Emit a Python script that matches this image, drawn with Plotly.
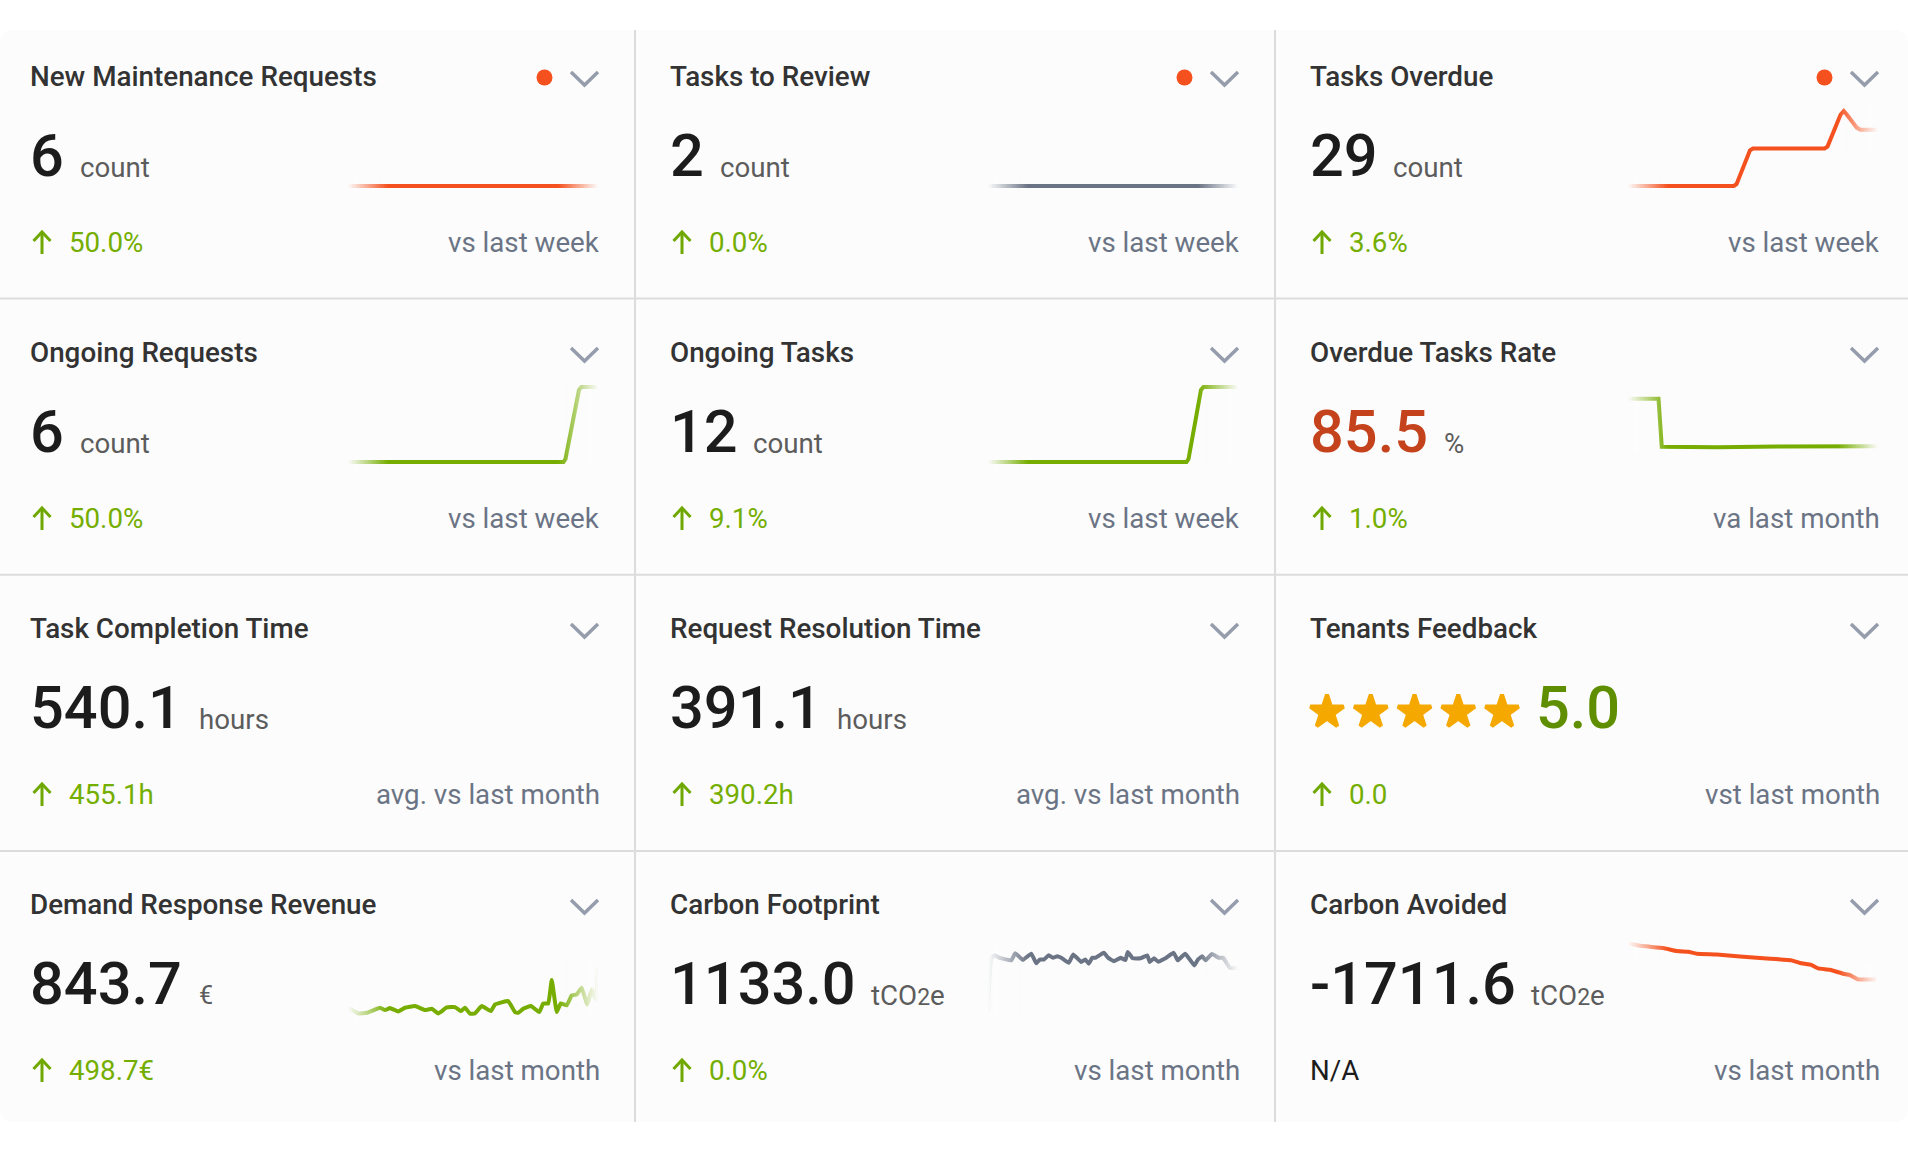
import plotly.graph_objects as go

W, H = 1908, 1152

# ---------------------------------------------------------------- card content
titles = ["New Maintenance Requests", "Tasks to Review", "Tasks Overdue",
          "Ongoing Requests", "Ongoing Tasks", "Overdue Tasks Rate",
          "Task Completion Time", "Request Resolution Time", "Tenants Feedback",
          "Demand Response Revenue", "Carbon Footprint", "Carbon Avoided"]
values = ["6", "2", "29", "6", "12", "85.5", "540.1", "391.1", "5.0", "843.7", "1133.0", "-1711.6"]
co2 = 'tCO<span style="font-size:23px">2</span>e'
units = ["count", "count", "count", "count", "count", "%", "hours", "hours", "", "€", co2, co2]
deltas = ["50.0%", "0.0%", "3.6%", "50.0%", "9.1%", "1.0%", "455.1h", "390.2h", "0.0", "498.7€", "0.0%", "N/A"]
compare = ["vs last week", "vs last week", "vs last week", "vs last week", "vs last week", "va last month",
           "avg. vs last month", "avg. vs last month", "vst last month", "vs last month", "vs last month",
           "vs last month"]
alert_cards = ["New Maintenance Requests", "Tasks to Review", "Tasks Overdue"]
star_ratings = [1, 2, 3, 4, 5]
star_levels = [5, 5, 5, 5, 5]

# ---------------------------------------------------------------- sparklines, x is % of the period
new_requests_x = [0, 50, 100]
new_requests_y = [6, 6, 6]
to_review_x = [0, 50, 100]
to_review_y = [2, 2, 2]
overdue_x = [0, 42.3, 43.4, 48.8, 50, 78.6, 79.8, 85, 86.3, 87.6, 91.6, 93, 100]
overdue_y = [26, 26, 26.1, 27.9, 28, 28, 28.1, 29.8, 30, 29.8, 29.1, 29, 29]
ongoing_req_x = [0, 86.2, 87, 92.4, 93.4, 100]
ongoing_req_y = [4, 4, 4.08, 5.92, 6, 6]
ongoing_tasks_x = [0, 79.4, 80.2, 85.2, 86.2, 100]
ongoing_tasks_y = [11, 11, 11.04, 11.96, 12, 12]
rate_x = [0, 12.2, 13.5, 35.8, 60, 84.6, 100]
rate_y = [99.8, 99.8, 85.2, 85.1, 85.3, 85.5, 85.4]
demand_x = [0.1, 4.1, 7.5, 12.8, 14.8, 16.8, 20.1, 22.8, 26.8, 30.8, 33.5, 36.1, 39.5, 42.8, 45.1, 46.8, 48.8,
            50.8, 53.5, 57.1, 58.8, 64.1, 66.8, 68.1, 70.1, 73.2, 76.5, 78.1, 80.1, 81.5, 83.5, 85.1, 87.5, 89.5,
            91.5, 93.5, 95.7, 97.5, 99.1, 100]
demand_y = [412, 351, 358, 412, 387, 408, 373, 412, 430, 387, 401, 351, 415, 419, 376, 412, 348, 351, 430, 376,
            447, 483, 365, 358, 401, 430, 365, 458, 458, 708, 365, 458, 437, 544, 554, 626, 447, 608, 501, 840]
footprint_x = [0.0, 1.3, 2.7, 4.7, 9.3, 10.9, 13.9, 17.3, 19.3, 20.7, 22.4, 24.3, 26, 27.7, 29.3, 32.3, 34.1, 37.3,
               38.9, 40.3, 41.7, 43, 46.3, 48.1, 50.3, 53, 55, 55.9, 57.9, 61, 63.7, 64.7, 66.4, 68, 71, 74.3, 75.9,
               78.9, 82.5, 84, 85.7, 87, 89.6, 92.4, 94.1, 96.8, 100]
footprint_y = [1003, 1134, 1140, 1134, 1128, 1145, 1129, 1144, 1121, 1130, 1130, 1140, 1134, 1138, 1134, 1122, 1142,
               1124, 1130, 1120, 1134, 1134, 1146, 1134, 1126, 1134, 1129, 1148, 1133, 1133, 1140, 1124, 1133, 1125,
               1133, 1146, 1128, 1144, 1116, 1130, 1138, 1128, 1143, 1134, 1134, 1110, 1110]
avoided_x = [0, 6.1, 14.1, 19.5, 24.1, 27.5, 35.5, 44.8, 55.5, 65.5, 68.8, 73.5, 76.1, 80.8, 86.1, 88.8, 92.1, 99.5]
avoided_y = [-999, -1052, -1091, -1151, -1164, -1203, -1217, -1256, -1296, -1335, -1388, -1428, -1494, -1520,
             -1599, -1626, -1712, -1712]

ORANGE = "#f4511e"
GREEN = "#6fa800"
GREEN_LINE = "#76ad00"
GREEN_TEXT = "#74ae00"
GREY = "#6b7485"
CARD_BG = "#fcfcfc"
RULE = "#dcdcdc"

# card index -> x, y, low value at the bottom, high value at the top, colour
sparks = {
    0: (new_requests_x, new_requests_y, 6, 7, ORANGE),
    1: (to_review_x, to_review_y, 2, 3, GREY),
    2: (overdue_x, overdue_y, 26, 30, ORANGE),
    3: (ongoing_req_x, ongoing_req_y, 4, 6, GREEN_LINE),
    4: (ongoing_tasks_x, ongoing_tasks_y, 11, 12, GREEN_LINE),
    5: (rate_x, rate_y, 80.6, 103.4, GREEN_LINE),
    9: (demand_x, demand_y, 345, 1147.5, GREEN_LINE),
    10: (footprint_x, footprint_y, 1000, 1179, GREY),
    11: (avoided_x, avoided_y, -2396.7, -911.7, ORANGE),
}

# where the unit text begins, it follows the number
unit_x = [78, 717.5, 1391, 78, 750.5, 1442, 196.5, 835, 0, 197, 868.5, 1528.5]

COL_W = 640
ROW_H = 276
CARD_TOP, CARD_BOTTOM = 30, 1122
PAD = 10  # room around the plot area so that the line is not clipped
FADE = 40  # px


def px(x):
    return x / W


def py(y):
    return 1 - y / H


def text(x, y, s, size, color, anchor="left", weight=400):
    return dict(x=px(x), y=py(y), xref="paper", yref="paper", text=s, showarrow=False, xanchor=anchor,
                yanchor="middle", align=anchor, font=dict(family="Roboto", size=size, color=color, weight=weight))


def path(points, color, width=3):
    d = "M" + " L".join(f"{px(a):.5f},{py(b):.5f}" for a, b in points)
    return dict(type="path", xref="paper", yref="paper", path=d, line=dict(color=color, width=width))


fig = go.Figure()
shapes = []
annotations = []

# card background with rounded corners
r = 14
card = (f"M{px(0)},{py(CARD_TOP + r)} Q{px(0)},{py(CARD_TOP)} {px(r)},{py(CARD_TOP)} L{px(W - r)},{py(CARD_TOP)} "
        f"Q{px(W)},{py(CARD_TOP)} {px(W)},{py(CARD_TOP + r)} L{px(W)},{py(CARD_BOTTOM - r)} "
        f"Q{px(W)},{py(CARD_BOTTOM)} {px(W - r)},{py(CARD_BOTTOM)} L{px(r)},{py(CARD_BOTTOM)} "
        f"Q{px(0)},{py(CARD_BOTTOM)} {px(0)},{py(CARD_BOTTOM - r)} Z")
shapes.append(dict(type="path", xref="paper", yref="paper", path=card, fillcolor=CARD_BG, line=dict(width=0),
                   layer="below"))
for x in [635, 1275]:
    shapes.append(dict(type="line", xref="paper", yref="paper", x0=px(x), x1=px(x), y0=py(CARD_TOP),
                       y1=py(CARD_BOTTOM), line=dict(color=RULE, width=2), layer="below"))
for y in [298.5, 574.7, 850.9]:
    shapes.append(dict(type="line", xref="paper", yref="paper", x0=0, x1=1, y0=py(y), y1=py(y),
                       line=dict(color=RULE, width=2), layer="below"))

for i, title in enumerate(titles):
    col, row = i % 3, i // 3
    dx, dy = col * COL_W, row * ROW_H

    annotations.append(text(28 + dx, 76.5 + dy, title, 27.8, "#333333", weight=500))

    value_color = "#1c1c1c"
    if title == "Overdue Tasks Rate":
        value_color = "#c5431c"
    vx = 28 + dx
    if title == "Tenants Feedback":
        value_color = "#5f8f00"
        vx = 1534
    annotations.append(text(vx, 156 + dy, values[i], 59.5, value_color, weight=500))
    if units[i]:
        size = 25 if units[i] == "€" else 27.7
        annotations.append(text(unit_x[i], 167 + dy, units[i], size, "#5c5c5c"))

    # footer
    if deltas[i] == "N/A":
        annotations.append(text(28 + dx, 242.5 + dy, deltas[i], 27.7, "#1c1c1c"))
    else:
        annotations.append(text(67 + dx, 242.5 + dy, deltas[i], 27.7, GREEN_TEXT))
        shapes.append(path([(42 + dx, 254 + dy), (42 + dx, 232 + dy)], GREEN, 3))
        shapes.append(path([(33.5 + dx, 241 + dy), (42 + dx, 232 + dy), (50.5 + dx, 241 + dy)], GREEN, 3))
    annotations.append(text(601.8 + dx, 242.5 + dy, compare[i], 27.7, GREY, anchor="right"))

    # chevron and alert dot
    shapes.append(path([(571 + dx, 72 + dy), (584.5 + dx, 85 + dy), (598 + dx, 72 + dy)], "#959dac", 3.5))
    if title in alert_cards:
        shapes.append(dict(type="circle", xref="paper", yref="paper", x0=px(536.5 + dx), x1=px(552.5 + dx),
                           y0=py(69.5), y1=py(85.5), fillcolor=ORANGE, line=dict(width=0)))

axis_no = 1
for i, (xs, ys, low, high, color) in sparks.items():
    col, row = i % 3, i // 3
    dx, dy = col * COL_W, row * ROW_H
    x0 = 348 + dx
    y_bottom, y_top = 186 + dy, 111 + dy
    name = "" if axis_no == 1 else str(axis_no)
    line = dict(color=color, width=4)
    if len(xs) > 15:
        line.update(shape="spline", smoothing=0.3)
    fig.add_trace(go.Scatter(x=xs, y=ys, mode="lines", xaxis="x" + name, yaxis="y" + name, line=line,
                             hoverinfo="skip", showlegend=False))
    y_pad = (high - low) * PAD / (y_bottom - y_top)
    x_pad = 100 * PAD / 250
    fig.update_layout({
        "xaxis" + name: dict(domain=[px(x0 - PAD), px(x0 + 250 + PAD)], range=[-x_pad, 100 + x_pad], visible=False,
                             fixedrange=True),
        "yaxis" + name: dict(domain=[py(y_bottom + PAD), py(y_top - PAD)], range=[low - y_pad, high + y_pad],
                             visible=False, fixedrange=True),
    })
    axis_no += 1

    # both ends of the line fade into the card, strips of 2px, only as tall as the line is there
    def band(keep):
        near = [n for n, x in enumerate(xs) if keep(x)]
        near = sorted(set(near + [max(near[0] - 1, 0), min(near[-1] + 1, len(xs) - 1)]))
        tops = [y_bottom - (ys[n] - low) / (high - low) * (y_bottom - y_top) for n in near]
        return py(max(tops) + 6), py(min(tops) - 6)

    fade_pct = 100 * FADE / 250
    left_band = band(lambda x: x <= fade_pct)
    right_band = band(lambda x: x >= 100 - fade_pct)
    steps = FADE // 2
    for s in range(steps):
        alpha = 1 - (s + 0.5) / steps
        for a, b, (lo, hi) in [(x0 + s * 2, x0 + (s + 1) * 2, left_band),
                               (x0 + 250 - (s + 1) * 2, x0 + 250 - s * 2, right_band)]:
            shapes.append(dict(type="rect", xref="paper", yref="paper", x0=px(a), x1=px(b), y0=lo, y1=hi,
                               fillcolor=CARD_BG, opacity=alpha, line=dict(width=0), layer="above"))
    for a, b, (lo, hi) in [(x0 - 6, x0, left_band), (x0 + 250, x0 + 256, right_band)]:
        shapes.append(dict(type="rect", xref="paper", yref="paper", x0=px(a), x1=px(b), y0=lo, y1=hi,
                           fillcolor=CARD_BG, line=dict(width=0), layer="above"))

# star rating of the feedback card
name = str(axis_no)
fig.add_trace(go.Scatter(x=star_ratings, y=star_levels, mode="markers", xaxis="x" + name, yaxis="y" + name,
                         cliponaxis=False, marker=dict(symbol="star", size=25, color="#f5a800",
                                                       line=dict(color="#f5a800", width=4)),
                         hoverinfo="skip", showlegend=False))
fig.update_layout({
    "xaxis" + name: dict(domain=[px(1327), px(1502)], range=[1, 5], visible=False, fixedrange=True),
    "yaxis" + name: dict(domain=[py(732), py(692)], range=[4, 6], visible=False, fixedrange=True),
})

fig.update_layout(width=W, height=H, autosize=False, margin=dict(l=0, r=0, t=0, b=0), paper_bgcolor="white",
                  plot_bgcolor="rgba(0,0,0,0)", showlegend=False, shapes=shapes, annotations=annotations,
                  hovermode=False)
fig.write_html("out.html", config=dict(displayModeBar=False),
               post_script="document.body.style.margin='0';document.body.style.overflow='hidden';")
